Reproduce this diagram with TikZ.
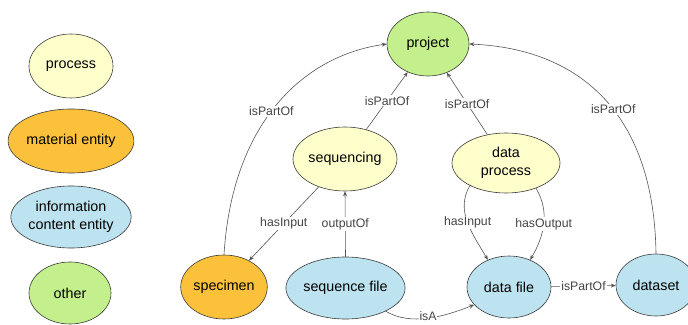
\documentclass[tikz,border=0pt]{standalone}
\usepackage{fontspec}
\setmainfont{Liberation Sans}
\usetikzlibrary{shapes.geometric,arrows.meta}
\definecolor{procc}{HTML}{FFFFCC}
\definecolor{matc}{HTML}{FBC13A}
\definecolor{infoc}{HTML}{BDE3F0}
\definecolor{othc}{HTML}{C3F08C}
\definecolor{edgec}{HTML}{555555}
\definecolor{borderc}{HTML}{3A3A3A}
\definecolor{labc}{HTML}{444444}
\tikzset{
  ent/.style={ellipse, draw=borderc, line width=0.6pt, inner sep=0pt, align=center,
    font=\fontsize{14.3}{18.3}\selectfont},
  procn/.style={ent, fill=procc},
  matn/.style={ent, fill=matc},
  infon/.style={ent, fill=infoc},
  othn/.style={ent, fill=othc},
  rel/.style={draw=edgec, line width=0.6pt, -{Stealth[length=5pt,width=4pt]}},
  lab/.style={fill=white, inner sep=1pt, text=labc, font=\fontsize{12.3}{14}\selectfont}
}
\begin{document}
\begin{tikzpicture}[x=1pt,y=1pt]
\useasboundingbox (0,0) rectangle (688,324);
% legend
\node[procn, minimum width=84pt, minimum height=64pt] (lproc) at (71,258) {process};
\node[matn, minimum width=116pt, minimum height=64pt] (lmat) at (71,183) {material entity};
\node[infon, minimum width=118pt, minimum height=62pt] (linfo) at (71,107) {information\\content entity};
\node[othn, minimum width=82pt, minimum height=62pt] (loth) at (70,31) {other};
% main nodes
\node[othn, minimum width=82pt, minimum height=64pt] (proj) at (428,280) {project};
\node[procn, minimum width=104pt, minimum height=64pt] (seq) at (345,165) {sequencing};
\node[procn, minimum width=108pt, minimum height=60pt] (dp) at (506,161) {data\\process};
\node[matn, minimum width=84pt, minimum height=64pt] (spec) at (224,37) {specimen};
\node[infon, minimum width=110pt, minimum height=62pt] (seqf) at (345.5,36) {sequence file};
\node[infon, minimum width=84pt, minimum height=62pt] (df) at (509,37) {data file};
\node[infon, minimum width=80pt, minimum height=62pt] (ds) at (656,39) {dataset};
% connectors
\draw[rel] (spec.north) .. controls +(8,130) and +(-85,-12) .. node[lab, pos=0.47] {isPartOf} (proj.west);
\draw[rel] (seq) -- node[lab] {isPartOf} (proj);
\draw[rel] (seq) -- node[lab] {hasInput} (spec);
\draw[rel] (seqf.north) -- node[lab] {outputOf} (seq.south);
\draw[rel] (dp) -- node[lab] {isPartOf} (proj);
\draw[rel] (ds.north) .. controls +(-2,139) and +(112,-5) .. node[lab, pos=0.45] {isPartOf} (proj.east);
\draw[rel] (dp.212) to[out=240, in=120] node[lab] {hasInput} (df.128);
\draw[rel] (dp.-40) to[out=-60, in=60] node[lab] {hasOutput} (df.52);
\draw[rel] (df) -- node[lab] {isPartOf} (ds);
\draw[rel] (seqf.-30) .. controls +(25,-15) and +(-30,-12) .. node[lab, pos=0.5, inner sep=0.5pt, yshift=1.5pt] {isA} (df.207);
\end{tikzpicture}
\end{document}
